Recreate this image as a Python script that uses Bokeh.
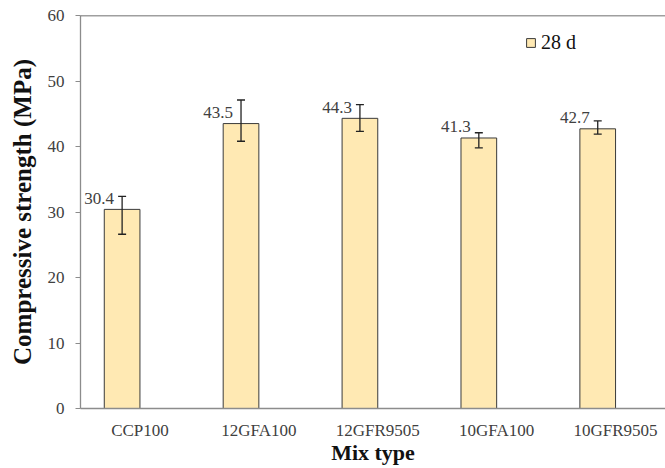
from bokeh.plotting import figure
from bokeh.models import (ColumnDataSource, Range1d, FixedTicker, Whisker, TeeHead,
                          Legend, LegendItem, Span)
from bokeh.transform import dodge
from bokeh.core.properties import value
from bokeh.embed import file_html
from bokeh.resources import INLINE

categories = ["CCP100", "12GFA100", "12GFR9505", "10GFA100", "10GFR9505"]
strength = [30.4, 43.5, 44.3, 41.3, 42.7]
err_low = [26.6, 40.8, 42.3, 39.8, 41.9]
err_high = [32.4, 47.1, 46.4, 42.1, 43.9]
labels = ["30.4", "43.5", "44.3", "41.3", "42.7"]
y_ticks = [0, 10, 20, 30, 40, 50, 60]
series_name = "28 d"

FONT = "Liberation Serif"
TXT = "#404040"

pos = [i + 0.5 for i in range(len(categories))]
src = ColumnDataSource(dict(x=pos, y=strength, lo=err_low, hi=err_high, lab=labels))

p = figure(width=665, height=468, output_backend="svg", toolbar_location=None,
           x_range=Range1d(0, 4.92), y_range=Range1d(0, 60),
           min_border_left=80, min_border_top=15, min_border_right=0,
           min_border_bottom=60)
p.outline_line_color = None
p.grid.grid_line_color = None
p.background_fill_color = "white"

bar_x = dodge("x", -0.15, range=p.x_range)
bars = p.vbar(x=bar_x, top="y", width=0.30, source=src,
              fill_color="#FFE9B3", line_color="#3a3a3a", line_width=1)

w = Whisker(base=bar_x, upper="hi", lower="lo", source=src, level="overlay",
            line_color="#222222", line_width=1.3,
            upper_head=TeeHead(size=8, line_color="#222222", line_width=1.3),
            lower_head=TeeHead(size=8, line_color="#222222", line_width=1.3))
p.add_layout(w)

p.text(x=bar_x, y="y", text="lab", source=src, x_offset=-8, y_offset=-11,
       text_align="right", text_baseline="alphabetic",
       text_font=value(FONT), text_font_size="17px", text_color=TXT)

p.add_layout(Span(location=60, dimension="width", line_color="#404040", line_width=1.3))

# axes
xa = p.xaxis[0]
xa.ticker = FixedTicker(ticks=pos)
xa.major_label_overrides = {pv: c for pv, c in zip(pos, categories)}
xa.major_tick_line_color = None
xa.minor_tick_line_color = None
xa.major_tick_out = 0
xa.major_tick_in = 0
xa.axis_line_color = "#8c8c8c"
xa.axis_line_width = 1.3
xa.major_label_standoff = 12
xa.major_label_text_font = FONT
xa.major_label_text_font_size = "17px"
xa.major_label_text_color = TXT
xa.axis_label = "Mix type"
xa.axis_label_text_font = FONT
xa.axis_label_text_font_style = "bold"
xa.axis_label_text_font_size = "22px"
xa.axis_label_text_color = "#111111"
xa.axis_label_standoff = -3

ya = p.yaxis[0]
ya.ticker = FixedTicker(ticks=y_ticks)
ya.minor_tick_line_color = None
ya.major_tick_out = 5
ya.major_tick_in = 0
ya.major_tick_line_color = "#8c8c8c"
ya.axis_line_color = "#8c8c8c"
ya.axis_line_width = 1.3
ya.major_label_standoff = 11
ya.major_label_text_font = FONT
ya.major_label_text_font_size = "17px"
ya.major_label_text_color = TXT
ya.axis_label = "Compressive strength (MPa)"
ya.axis_label_text_font = FONT
ya.axis_label_text_font_style = "bold"
ya.axis_label_text_font_size = "25px"
ya.axis_label_text_color = "#111111"
ya.axis_label_standoff = 9

legend = Legend(items=[LegendItem(label=series_name, renderers=[bars])],
                location=(445, 354), glyph_width=11, glyph_height=11,
                label_standoff=5, padding=0, margin=0,
                border_line_alpha=0, background_fill_alpha=0,
                label_text_font=FONT, label_text_font_size="20px",
                label_text_color="#111111")
p.add_layout(legend)

open("out.html", "w").write(file_html(p, INLINE))
